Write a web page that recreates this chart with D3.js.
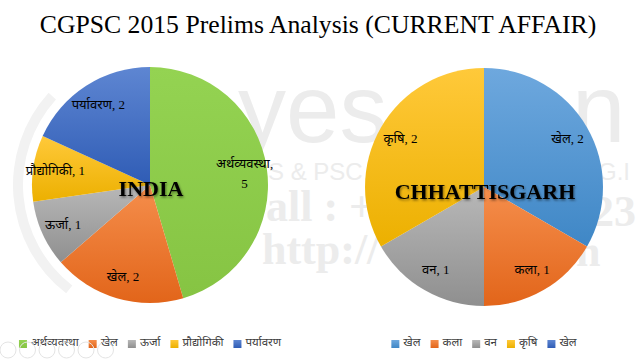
<!DOCTYPE html>
<html>
<head>
<meta charset="utf-8">
<script src="https://cdn.jsdelivr.net/npm/d3@7/dist/d3.min.js"></script>
<style>
  body { margin: 0; background: #fff; }
  svg { display: block; }
</style>
</head>
<body>
<svg id="chart" width="640" height="360"></svg>
<script>
const title = "CGPSC 2015 Prelims Analysis (CURRENT AFFAIR)";

const indiaTopics = ["अर्थव्यवस्था", "खेल", "ऊर्जा", "प्रौद्योगिकी", "पर्यावरण"];
const indiaCounts = [5, 2, 1, 1, 2];
const indiaColors = ["green", "orange", "gray", "yellow", "blue"];

const cgTopics = ["खेल", "कला", "वन", "कृषि", "खेल"];
const cgCounts = [2, 1, 1, 2, 0];
const cgColors = ["lightblue", "orange", "gray", "yellow", "blue"];

const palette = {
  green: ["#94d352", "#86c443"],
  orange: ["#f58e4c", "#e2651a"],
  gray: ["#b8b8b8", "#8f8f8f"],
  yellow: ["#ffc93a", "#ecb000"],
  blue: ["#5e86d2", "#2f5cb5"],
  lightblue: ["#6ea8de", "#3f87c6"],
};

const devFont = "'Liberation Serif', 'Noto Sans', serif";

const svg = d3.select("#chart");
const defs = svg.append("defs");

Object.keys(palette).forEach(function (k) {
  const g = defs
    .append("linearGradient")
    .attr("id", "grad-" + k)
    .attr("x1", 0).attr("y1", 0)
    .attr("x2", 0).attr("y2", 1);
  g.append("stop").attr("offset", "0%").attr("stop-color", palette[k][0]);
  g.append("stop").attr("offset", "100%").attr("stop-color", palette[k][1]);
});

const shadow = defs.append("filter").attr("id", "shadow")
  .attr("x", "-10%").attr("y", "-30%").attr("width", "130%").attr("height", "170%");
shadow.append("feDropShadow")
  .attr("dx", 1).attr("dy", 1.5).attr("stdDeviation", 1)
  .attr("flood-color", "#000").attr("flood-opacity", 0.45);

// faint watermark, only the bits that peek out between the pies
const wm = svg.append("g").attr("fill", "#ececec");
const sans = "'Liberation Sans', Arial, sans-serif";
const serifB = "bold 44px 'Liberation Serif', serif";
[
  [238, 142, "96px " + sans, "yes"],
  [572, 142, "96px " + sans, "n"],
  [268, 180, "24px " + sans, "S & PSC"],
  [598, 180, "24px " + sans, "G.I"],
  [266, 221, serifB, "all : +"],
  [592, 226, serifB, "23"],
  [262, 264, serifB, "http://"],
  [576, 266, serifB, "n"],
].forEach(function (w) {
  wm.append("text").attr("x", w[0]).attr("y", w[1]).style("font", w[2]).text(w[3]);
});
wm.append("path")
  .attr("d", d3.arc()({ innerRadius: 127, outerRadius: 137, startAngle: 3.8, endAngle: 5.45 }))
  .attr("transform", "translate(150,185)")
  .attr("fill", "#f2f2f2");

svg.append("text")
  .attr("x", 318)
  .attr("y", 33)
  .attr("text-anchor", "middle")
  .style("font", "25.7px 'Liberation Serif', 'Times New Roman', serif")
  .attr("fill", "#000")
  .text(title);

function drawPie(cx, cy, r, topics, counts, colors, name, nameY, legendY) {
  const data = topics.map(function (t, i) {
    return { topic: t, count: counts[i], color: colors[i] };
  });

  const pie = d3.pie().sort(null).value(function (d) { return d.count; });
  const arc = d3.arc().innerRadius(0).outerRadius(r);
  const labelArc = d3.arc().innerRadius(r * 0.81).outerRadius(r * 0.81);

  const g = svg.append("g").attr("transform", `translate(${cx},${cy})`);

  const arcs = pie(data).filter(function (d) { return d.data.count > 0; });

  g.selectAll("path")
    .data(arcs)
    .join("path")
    .attr("d", arc)
    .attr("fill", function (d) { return `url(#grad-${d.data.color})`; });

  const labels = g.selectAll("text.lbl")
    .data(arcs)
    .join("text")
    .attr("class", "lbl")
    .attr("text-anchor", "middle")
    .attr("fill", "#000")
    .style("font", "13px " + devFont)
    .attr("transform", function (d) {
      const c = labelArc.centroid(d);
      return `translate(${c[0]},${c[1] + 4})`;
    })
    .text(function (d) { return `${d.data.topic}, ${d.data.count}`; });

  // wrap labels that would spill well out of the circle
  labels.each(function (d) {
    const el = d3.select(this);
    const w = this.getComputedTextLength();
    const c = labelArc.centroid(d);
    const half = Math.sqrt(Math.max(0, r * r - c[1] * c[1]));
    if (Math.abs(c[0]) + w / 2 > half + 10) {
      el.text(null);
      el.append("tspan").attr("x", 0).attr("dy", -7).text(d.data.topic + ",");
      el.append("tspan").attr("x", 0).attr("dy", 20).text(d.data.count);
    }
  });

  svg.append("text")
    .attr("x", cx + 1)
    .attr("y", nameY)
    .attr("text-anchor", "middle")
    .attr("fill", "#000")
    .attr("filter", "url(#shadow)")
    .style("font", "bold 22px 'Liberation Serif', 'Times New Roman', serif")
    .text(name);

  // legend, centred under the pie
  const lg = svg.append("g");
  const items = lg.selectAll("g")
    .data(data)
    .join("g");
  items.append("rect")
    .attr("width", 8).attr("height", 8)
    .attr("y", -6)
    .attr("fill", function (d) { return `url(#grad-${d.color})`; });
  items.append("text")
    .attr("x", 12)
    .attr("fill", "#404040")
    .style("font", "11.5px " + devFont)
    .text(function (d) { return d.topic; });

  let x = 0;
  items.each(function () {
    const t = d3.select(this).select("text").node().getComputedTextLength();
    d3.select(this).attr("transform", `translate(${x},0)`);
    x += 12 + t + 10;
  });
  const total = x - 10;
  lg.attr("transform", `translate(${cx - total / 2},${legendY})`);
}

drawPie(150, 185, 118, indiaTopics, indiaCounts, indiaColors, "INDIA", 196, 346);
drawPie(484, 187, 119, cgTopics, cgCounts, cgColors, "CHHATTISGARH", 199, 346);

// faint slideshow controls in the corner
svg.append("g")
  .selectAll("circle")
  .data(d3.range(6))
  .join("circle")
  .attr("cx", function (d) { return 8 + d * 19.5; })
  .attr("cy", 350)
  .attr("r", 8)
  .attr("fill", "none")
  .attr("stroke", "#e4e4e4");
</script>
</body>
</html>
